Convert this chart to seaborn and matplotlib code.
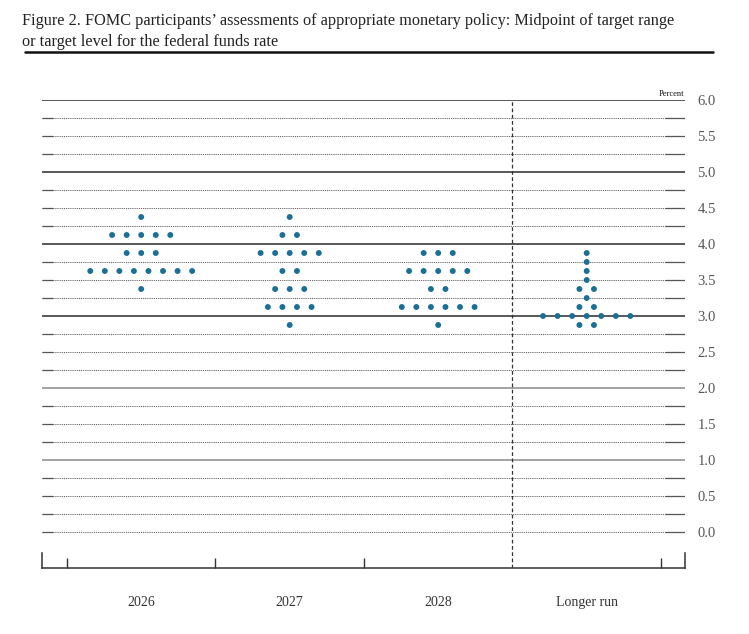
import matplotlib
matplotlib.use("Agg")
import matplotlib.pyplot as plt
import seaborn as sns
import pandas as pd
import numpy as np
from matplotlib.lines import Line2D

# ---- data ----
categories = ["2026", "2027", "2028", "Longer run"]
rates_2026 = [4.375, 4.125, 3.875, 3.625, 3.375]
counts_2026 = [1, 5, 3, 8, 1]
rates_2027 = [4.375, 4.125, 3.875, 3.625, 3.375, 3.125, 2.875]
counts_2027 = [1, 2, 5, 2, 3, 4, 1]
rates_2028 = [3.875, 3.625, 3.375, 3.125, 2.875]
counts_2028 = [3, 5, 2, 6, 1]
rates_lr = [3.875, 3.75, 3.625, 3.5, 3.375, 3.25, 3.125, 3.0, 2.875]
counts_lr = [1, 1, 1, 1, 2, 1, 2, 7, 2]
y_ticks = [0.0, 0.5, 1.0, 1.5, 2.0, 2.5, 3.0, 3.5, 4.0, 4.5, 5.0, 5.5, 6.0]
title = ("Figure 2. FOMC participants\u2019 assessments of appropriate monetary policy: Midpoint of target range\n"
         "or target level for the federal funds rate")

series = [(rates_2026, counts_2026), (rates_2027, counts_2027),
          (rates_2028, counts_2028), (rates_lr, counts_lr)]

DOT_STEP = 0.098
rows = []
for ci, (rates, counts) in enumerate(series):
    for r, n in zip(rates, counts):
        for i in range(n):
            rows.append({"category": categories[ci],
                         "x": ci + (i - (n - 1) / 2) * DOT_STEP,
                         "rate": r})
df = pd.DataFrame(rows)

sns.set_theme(style="white")
plt.rcParams["font.family"] = ["Liberation Serif", "DejaVu Serif"]

fig = plt.figure(figsize=(7.49, 6.34), dpi=100)
W, H = 749, 634
left_px, right_px, top_px, bot_px = 42, 685, 100, 568
ax = fig.add_axes([left_px / W, 1 - bot_px / H, (right_px - left_px) / W, (bot_px - top_px) / H])

x_lo, x_hi = -0.668, 3.662
ax.set_xlim(x_lo, x_hi)
ax.set_ylim(-0.5, 6.0)

# horizontal grid lines
left_frac = 11 / (right_px - left_px)
right_frac = 20 / (right_px - left_px)
ytr = ax.get_yaxis_transform()
for k in range(0, 25):
    y = k * 0.25
    if k % 4 == 0 and k > 0:
        col = "#2b2b2b" if y >= 3 else "#8a8a8a"
        ax.hlines(y, 0, 1, transform=ytr, color=col, lw=1.1, zorder=1)
    else:
        ax.hlines(y, 0, 1, transform=ytr, color="#666666", lw=0.7,
                  linestyles=[(0, (1.2, 1.0))], zorder=1)
        ax.hlines(y, 0, left_frac, transform=ytr, color="#555555", lw=0.9, zorder=1)
        ax.hlines(y, 1 - right_frac, 1, transform=ytr, color="#555555", lw=0.9, zorder=1)

# vertical dashed separator
ax.axvline(2.5, color="#333333", lw=0.9, linestyle=(0, (3, 2)), zorder=1)

# dots
sns.scatterplot(data=df, x="x", y="rate", color="#1b6e96", s=18,
                edgecolor="none", linewidth=0, ax=ax, zorder=3, legend=False)

# axes styling
ax.spines["top"].set_visible(False)
ax.spines["bottom"].set_color("#333333")
ax.spines["bottom"].set_linewidth(1.1)
for sp in ["left", "right"]:
    ax.spines[sp].set_visible(True)
    ax.spines[sp].set_color("#333333")
    ax.spines[sp].set_linewidth(1.1)
    ax.spines[sp].set_bounds(-0.5, -0.29)

ax.set_xticks(range(len(categories)))
ax.set_xticklabels(categories)
ax.set_xticks([-0.5, 0.5, 1.5, 3.5], minor=True)
ax.tick_params(axis="x", which="major", length=0, pad=20, labelsize=10, labelcolor="#333333")
ax.tick_params(axis="x", which="minor", direction="in", length=7.5, width=1.0,
               color="#333333", bottom=True)

ax.yaxis.tick_right()
ax.set_yticks(y_ticks)
ax.set_yticklabels([f"{v:.1f}" for v in y_ticks])
ax.tick_params(axis="y", which="major", length=0, pad=9, labelsize=10.5, labelcolor="#555555")
ax.set_xlabel("")
ax.set_ylabel("")

ax.text(0.998, 6.03, "Percent", transform=ytr, ha="right", va="bottom",
        fontsize=6, color="#111111")

# title and rule
fig.text(22 / W, 1 - 13 / H, title, ha="left", va="top", fontsize=11.7,
         color="#222222", linespacing=1.4)
fig.add_artist(Line2D([25 / W, 713 / W], [1 - 52 / H, 1 - 52 / H],
                      color="#111111", lw=1.8, transform=fig.transFigure))

fig.savefig("out.png", dpi=100)
